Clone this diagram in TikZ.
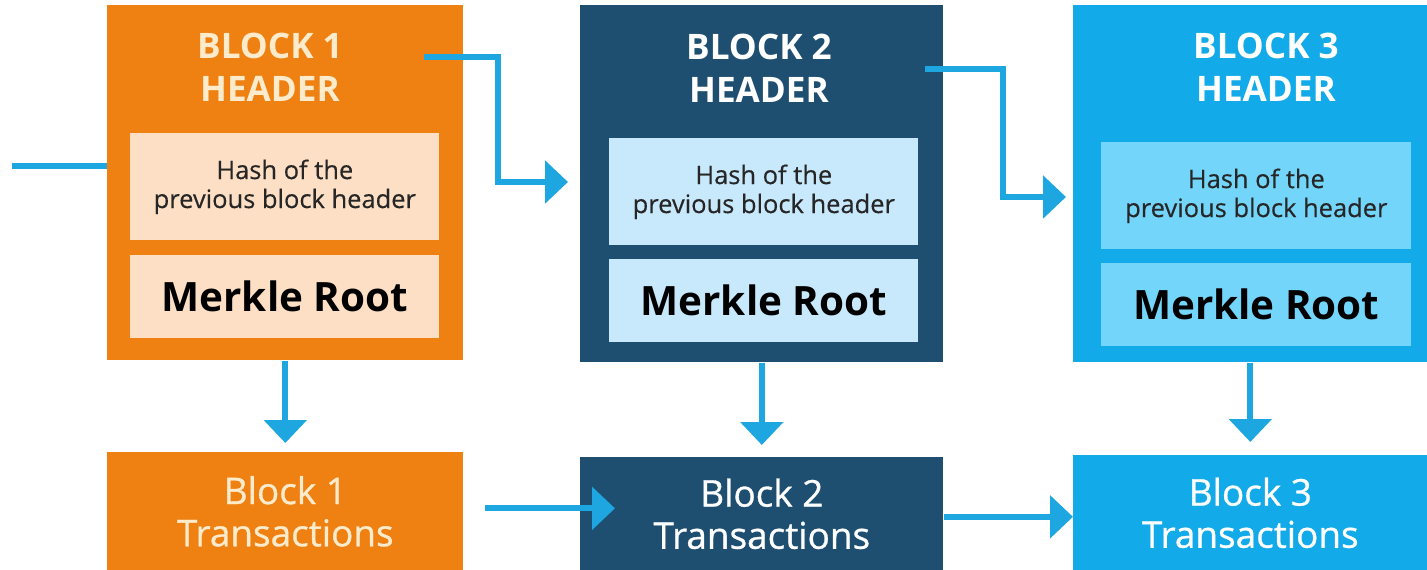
\documentclass[tikz,border=0pt]{standalone}
\usepackage{fontspec}
\setmainfont{Open Sans}
\usetikzlibrary{arrows.meta,positioning}

\definecolor{blkorange}{HTML}{EF8012}
\definecolor{peach}{HTML}{FCDFC4}
\definecolor{cream}{HTML}{FDEBCB}
\definecolor{navy}{HTML}{1E4F71}
\definecolor{paleblue}{HTML}{C8E8FB}
\definecolor{skyblue}{HTML}{12AAE8}
\definecolor{iceblue}{HTML}{74D5FA}
\definecolor{linkblue}{HTML}{1DA6E0}
\definecolor{inktext}{HTML}{262626}

\tikzset{
  box/.style={rectangle, inner sep=0pt, anchor=north west, align=center},
  hdrbox/.style={box, minimum height=7.1cm},
  hashbox/.style={box, minimum width=6.18cm, minimum height=2.14cm, text=inktext,
    font=\fontsize{14.5}{16.5}\selectfont\addfontfeature{FakeBold=0.3}},
  merklebox/.style={box, minimum width=6.18cm, minimum height=1.66cm, text=black,
    font=\fontsize{23}{26}\selectfont\bfseries},
  txbox/.style={box, font=\fontsize{21}{24}\selectfont\addfontfeature{FakeBold=0.8}},
  title/.style={align=center, font=\fontsize{20}{24.5}\selectfont\bfseries},
  link/.style={draw=linkblue, line width=0.12cm},
  tip/.style={-{Triangle[width=0.84cm,length=0.46cm]}}
}

\begin{document}
\begin{tikzpicture}[x=0.02cm, y=-0.02cm]
  \useasboundingbox (0,0) rectangle (1427,570);

  % block 1
  \node[hdrbox, fill=blkorange, minimum width=7.12cm] (hdr1) at (107,5) {};
  \node[title, text=cream] (ttl1) at (270,67) {BLOCK 1\\HEADER};
  \node[hashbox, fill=peach] (hash1) at (130,133) {Hash of the\\previous block header};
  \node[merklebox, fill=peach] (merk1) at (130,255) {Merkle Root};
  \node[txbox, fill=blkorange, text=cream, minimum width=7.12cm, minimum height=2.36cm] (tx1) at (107,452) {Block 1\\Transactions};

  % block 2
  \node[hdrbox, fill=navy, minimum width=7.26cm, minimum height=7.14cm] (hdr2) at (580,5) {};
  \node[title, text=white] (ttl2) at (759,68) {BLOCK 2\\HEADER};
  \node[hashbox, fill=paleblue] (hash2) at (609,138) {Hash of the\\previous block header};
  \node[merklebox, fill=paleblue] (merk2) at (609,259) {Merkle Root};
  \node[txbox, fill=navy, text=white, minimum width=7.26cm, minimum height=2.26cm] (tx2) at (580,457) {Block 2\\Transactions};

  % block 3
  \node[hdrbox, fill=skyblue, minimum width=7.08cm, minimum height=7.14cm] (hdr3) at (1073,5) {};
  \node[title, text=white] (ttl3) at (1266,67) {BLOCK 3\\HEADER};
  \node[hashbox, fill=iceblue, minimum width=6.2cm] (hash3) at (1101,142) {Hash of the\\previous block header};
  \node[merklebox, fill=iceblue, minimum width=6.2cm] (merk3) at (1101,263) {Merkle Root};
  \node[txbox, fill=skyblue, text=white, minimum width=7.08cm, minimum height=2.3cm] (tx3) at (1073,455) {Block 3\\Transactions};

  % links between headers
  \coordinate (src) at (12,166);
  \draw[link] (src) -- (src -| hdr1.west);
  \coordinate (out1) at (424,57);
  \coordinate (in2) at (568,182);
  \draw[link, tip] (out1) -- ++(74,0) |- (in2);
  \coordinate (out2) at (925,69);
  \coordinate (in3) at (1066,197);
  \draw[link, tip] (out2) -- ++(78,0) |- (in3);

  % header to transactions
  \draw[link, tip, shorten >=0.18cm] (hdr1.south) -- (tx1.north);
  \draw[link, tip, shorten >=0.24cm] (hdr2.south) -- (tx2.north);
  \draw[link, tip, shorten >=0.26cm] (hdr3.south) -- (tx3.north);

  % transactions chain
  \coordinate (t1) at ([yshift=0.06cm]tx1.east);
  \draw[link, tip, shorten <=0.42cm, shorten >=-0.7cm] (t1) -- (t1 -| tx2.west);
  \coordinate (t2) at ([yshift=-0.06cm]tx2.east);
  \draw[link, tip] (t2) -- (t2 -| tx3.west);
\end{tikzpicture}
\end{document}
